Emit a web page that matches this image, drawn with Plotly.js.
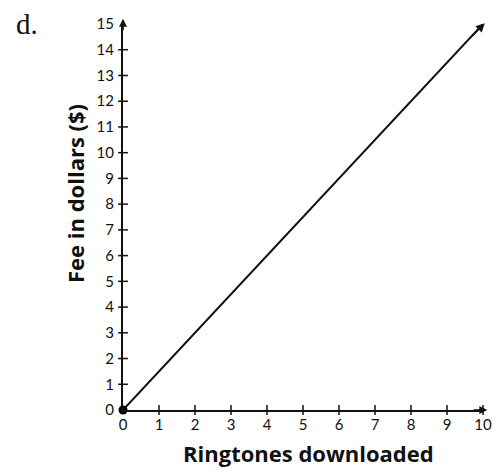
<!DOCTYPE html>
<html><head><meta charset="utf-8">
<script src="https://cdn.plot.ly/plotly-3.0.1.min.js"></script>
<style>html,body{margin:0;padding:0;background:#fff}#chart{width:500px;height:474px}</style>
</head><body><div id="chart"></div>
<script>
const xTicks = [0,1,2,3,4,5,6,7,8,9,10];
const yTicks = [0,1,2,3,4,5,6,7,8,9,10,11,12,13,14,15];
const ringtones = [0, 10];
const fees = [0, 15];
const originX = [0], originY = [0];
const xTitle = "Ringtones downloaded";
const yTitle = "Fee in dollars ($)";
const panelLabel = "d.";

const tickFont = {family: "Lato, 'Open Sans', sans-serif", size: 15, color: "#111"};
const titleFont = {family: "'Open Sans', sans-serif", size: 22, color: "#111", weight: 700};

const traces = [
  {x: xTicks.slice(1), y: xTicks.slice(1).map(() => 0), mode: "markers", type: "scatter",
   marker: {symbol: "line-ns", size: 7, line: {width: 1.5, color: "#111"}}, cliponaxis: false, hoverinfo: "skip"},
  {x: yTicks.slice(1, -1).map(() => 0), y: yTicks.slice(1, -1), mode: "markers", type: "scatter",
   marker: {symbol: "line-ew", size: 7, line: {width: 1.5, color: "#111"}}, cliponaxis: false, hoverinfo: "skip"},
  {x: ringtones, y: fees, mode: "lines", type: "scatter", line: {color: "#111", width: 2}, cliponaxis: false},
  {x: originX, y: originY, mode: "markers", type: "scatter", marker: {color: "#000", size: 9}, cliponaxis: false}
];

const layout = {
  width: 500, height: 474,
  margin: {l: 123, r: 17, t: 24, b: 64},
  paper_bgcolor: "#fff", plot_bgcolor: "#fff",
  showlegend: false,
  xaxis: {range: [0, 10], tickvals: xTicks, ticktext: xTicks.map(String), showgrid: false, zeroline: false,
          showline: true, linecolor: "#111", linewidth: 2, ticks: "", tickfont: tickFont, ticklabelstandoff: 0, fixedrange: true},
  yaxis: {range: [0, 15], tickvals: yTicks, ticktext: yTicks.map(String), showgrid: false, zeroline: false,
          showline: true, linecolor: "#111", linewidth: 2, ticks: "", tickfont: tickFont, ticklabelstandoff: 4, fixedrange: true},
  annotations: [
    {x: 10.05, y: 15.03, ax: 9.6, ay: 14.4, xref: "x", yref: "y", axref: "x", ayref: "y", text: "", showarrow: true,
     arrowhead: 2, arrowsize: 1.1, arrowwidth: 1.6, arrowcolor: "#111"},
    {x: 10.12, y: 0, ax: 9.7, ay: 0, xref: "x", yref: "y", axref: "x", ayref: "y", text: "", showarrow: true,
     arrowhead: 2, arrowsize: 1, arrowwidth: 1.6, arrowcolor: "#111"},
    {x: 0, y: 15.2, ax: 0, ay: 14.7, xref: "x", yref: "y", axref: "x", ayref: "y", text: "", showarrow: true,
     arrowhead: 2, arrowsize: 1, arrowwidth: 1.6, arrowcolor: "#111"},
    {x: 10.2, y: 0.6, xref: "x", yref: "y", text: "x", showarrow: false,
     font: {family: "'Liberation Serif', serif", size: 15, style: "italic", color: "#111"}},
    {x: 0.25, y: 15.5, xref: "x", yref: "y", text: "y", showarrow: false,
     font: {family: "'Liberation Serif', serif", size: 15, style: "italic", color: "#111"}},
    {x: 308, y: 453, xref: "paper", yref: "paper", text: xTitle, showarrow: false},
    {x: 75, y: 194, text: yTitle, showarrow: false, textangle: -90},
    {x: 27, y: 24, text: panelLabel, showarrow: false,
     font: {family: "'Liberation Serif', 'DejaVu Serif', serif", size: 29, color: "#111"}}
  ]
};
// convert pixel-positioned labels to paper coords
const pw = 500 - 123 - 17, ph = 474 - 24 - 64;
function px2paper(a) {
  a.xref = "paper"; a.yref = "paper";
  a.x = (a.x - 123) / pw; a.y = (474 - 64 - a.y) / ph;
  a.xanchor = "center"; a.yanchor = "middle";
}
px2paper(layout.annotations[5]); layout.annotations[5].font = titleFont;
px2paper(layout.annotations[6]); layout.annotations[6].font = titleFont;
px2paper(layout.annotations[7]);

Plotly.newPlot("chart", traces, layout, {staticPlot: true});
</script></body></html>
